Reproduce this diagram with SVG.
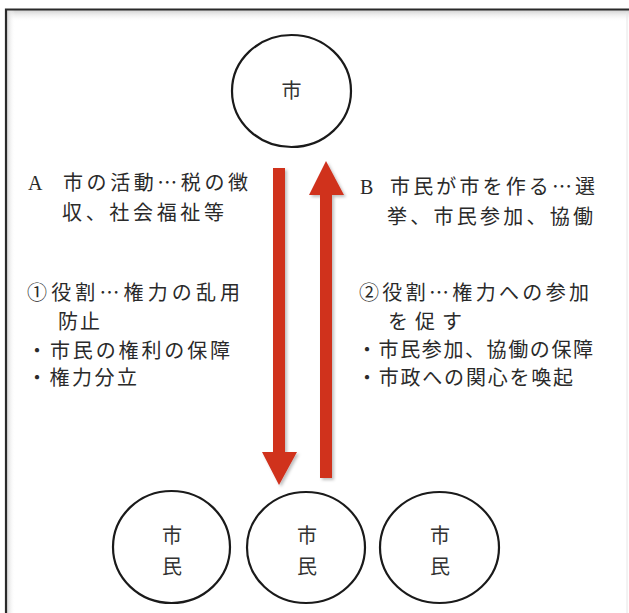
<svg xmlns="http://www.w3.org/2000/svg" width="629" height="613" viewBox="0 0 629 613">
<style>
.node{fill:#fff;stroke:#1a1a1a;stroke-width:2.2}
.nt{font-family:"Noto Sans CJK JP","Noto Sans CJK SC",sans-serif;font-size:20px;fill:#333;text-anchor:middle}
.lb{font-family:"Noto Sans CJK JP","Noto Sans CJK SC",sans-serif;font-size:20px;fill:#2a2a2a}
.lt{font-family:"Liberation Serif",serif;font-size:20px;fill:#2a2a2a}
.arrow{fill:#d0311f}
</style>
<defs>
<linearGradient id="topsh" x1="0" y1="0" x2="0" y2="1">
<stop offset="0" stop-color="#cfcfcf"/>
<stop offset="1" stop-color="#ffffff" stop-opacity="0"/>
</linearGradient>
<linearGradient id="leftsh" x1="0" y1="0" x2="1" y2="0">
<stop offset="0" stop-color="#d8d8d8"/>
<stop offset="1" stop-color="#ffffff" stop-opacity="0"/>
</linearGradient>
<filter id="ash" x="-30%" y="-5%" width="160%" height="110%">
<feDropShadow dx="2" dy="2" stdDeviation="1.5" flood-color="#000" flood-opacity="0.25"/>
</filter>
</defs>
<rect x="0" y="0" width="629" height="613" fill="#fff"/>
<g id="frame">
<rect x="7" y="10" width="640" height="12" fill="url(#topsh)"/>
<rect x="7" y="10" width="8" height="620" fill="url(#leftsh)"/>
<path d="M6,640 L6,9.5 L640,9.5" fill="none" stroke="#2a2a2a" stroke-width="2.2"/>
<line x1="627" y1="12" x2="627" y2="613" stroke="#e6e6e6" stroke-width="1"/>
</g>
<g id="connectors">
<path class="arrow" filter="url(#ash)" d="M273,168 L285,168 L285,452 L297,452 L279,485 L262,452 L273,452 Z"/>
<path class="arrow" filter="url(#ash)" d="M320,478 L332,478 L332,195 L344,195 L326,161 L309,195 L320,195 Z"/>
</g>
<g id="city">
<ellipse class="node" cx="291.5" cy="91" rx="59.5" ry="56"/>
<text class="nt" x="291.5" y="98">市</text>
</g>
<g id="citizen1">
<ellipse class="node" cx="171.5" cy="547" rx="58.5" ry="56"/>
<text class="nt" x="172" y="543">市</text>
<text class="nt" x="172" y="574">民</text>
</g>
<g id="citizen2">
<ellipse class="node" cx="306" cy="547.5" rx="59" ry="55.5"/>
<text class="nt" x="307" y="543">市</text>
<text class="nt" x="307" y="574">民</text>
</g>
<g id="citizen3">
<ellipse class="node" cx="439.5" cy="547.5" rx="59.5" ry="55.5"/>
<text class="nt" x="440" y="543">市</text>
<text class="nt" x="440" y="574">民</text>
</g>
<g id="labelA">
<text class="lt" x="28" y="190">A</text>
<text class="lb" x="63" y="190" textLength="185" lengthAdjust="spacing">市の活動…税の徴</text>
<text class="lb" x="62" y="220" textLength="162" lengthAdjust="spacing">収、社会福祉等</text>
<text class="lb" x="27" y="300" textLength="213" lengthAdjust="spacing">①役割…権力の乱用</text>
<text class="lb" x="58" y="329" textLength="42" lengthAdjust="spacing">防止</text>
<text class="lb" x="27" y="358" textLength="203" lengthAdjust="spacing">・市民の権利の保障</text>
<text class="lb" x="27" y="385" textLength="110" lengthAdjust="spacing">・権力分立</text>
</g>
<g id="labelB">
<text class="lt" x="360" y="194">B</text>
<text class="lb" x="390" y="194" textLength="205" lengthAdjust="spacing">市民が市を作る…選</text>
<text class="lb" x="387" y="224" textLength="206" lengthAdjust="spacing">挙、市民参加、協働</text>
<text class="lb" x="359" y="300" textLength="230" lengthAdjust="spacing">②役割…権力への参加</text>
<text class="lb" x="388" y="329" textLength="74" lengthAdjust="spacing">を促す</text>
<text class="lb" x="357" y="357" textLength="236" lengthAdjust="spacing">・市民参加、協働の保障</text>
<text class="lb" x="357" y="385" textLength="216" lengthAdjust="spacing">・市政への関心を喚起</text>
</g>
</svg>
